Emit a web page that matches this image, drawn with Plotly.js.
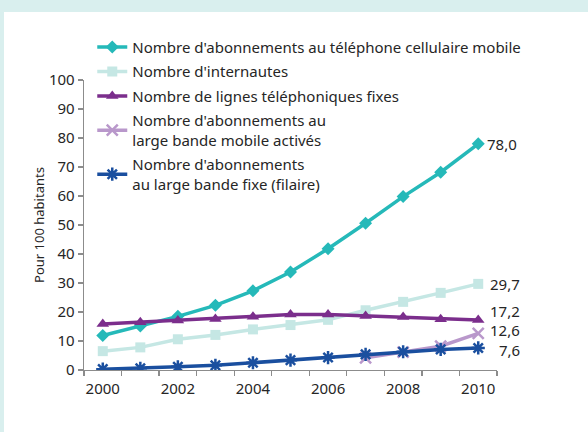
<!DOCTYPE html>
<html>
<head>
<meta charset="utf-8">
<script src="https://cdn.plot.ly/plotly-3.0.1.min.js"></script>
<style>html,body{margin:0;padding:0;background:#d9efee;}#chart{width:588px;height:432px;}</style>
</head>
<body>
<div id="chart"></div>
<script>
var years = [2000, 2001, 2002, 2003, 2004, 2005, 2006, 2007, 2008, 2009, 2010];
var mobileSubs = [11.9, 15.2, 18.5, 22.3, 27.3, 33.8, 41.8, 50.6, 59.8, 68.2, 78.0];
var internetUsers = [6.5, 7.8, 10.6, 12.1, 14.0, 15.5, 17.3, 20.6, 23.5, 26.6, 29.7];
var fixedLines = [15.9, 16.5, 17.1, 17.6, 18.4, 19.1, 19.1, 18.6, 18.3, 17.5, 17.2];
var mobileBroadband = [null, null, null, null, null, null, null, 4.2, 6.2, 8.2, 12.6];
var fixedBroadband = [0.3, 0.6, 1.1, 1.6, 2.5, 3.4, 4.3, 5.4, 6.3, 7.1, 7.6];
var seriesNames = [
  "Nombre d'abonnements au téléphone cellulaire mobile",
  "Nombre d'internautes",
  "Nombre de lignes téléphoniques fixes",
  "Nombre d'abonnements au<br>large bande mobile activés",
  "Nombre d'abonnements<br>au large bande fixe (filaire)"
];
var yTitle = "Pour 100 habitants";

var FONT = "'Noto Sans', 'Open Sans', sans-serif";
var TXT = '#262626';

function tr(y, name, color, symbol, msize, mline, grp) {
  return {
    x: years, y: y, name: name, type: 'scatter', mode: 'lines+markers',
    legendgroup: grp,
    line: {color: color, width: 3.5},
    marker: {symbol: symbol, size: msize, color: color, line: {color: color, width: mline}},
    connectgaps: false
  };
}
var data = [
  tr(mobileSubs, seriesNames[0], '#25b9b9', 'diamond', 10, 0, 'a'),
  tr(internetUsers, seriesNames[1], '#c5e7e4', 'square', 10, 0, 'b'),
  tr(fixedLines, seriesNames[2], '#7b2e8c', 'triangle-up', 11, 0, 'c'),
  tr(mobileBroadband, seriesNames[3], '#b998cb', 'x-thin', 11, 2.5, 'd'),
  tr(fixedBroadband, seriesNames[4], '#1a4f9f', 'asterisk', 11, 2.5, 'e')
];

function fmt(v) { return v.toFixed(1).replace('.', ','); }
var last = years[years.length - 1];
var labelSeries = [
  {v: mobileSubs[10], dx: 7, dy: 0},
  {v: internetUsers[10], dx: 10, dy: 0},
  {v: fixedLines[10], dx: 10, dy: -9.5},
  {v: mobileBroadband[10], dx: 10, dy: -3},
  {v: fixedBroadband[10], dx: 19, dy: 2}
];
var annotations = labelSeries.map(function (s) {
  return {
    x: last, y: s.v, xref: 'x', yref: 'y', text: fmt(s.v), showarrow: false,
    xanchor: 'left', yanchor: 'middle', xshift: s.dx, yshift: -s.dy,
    font: {family: FONT, size: 15, color: TXT}
  };
});

var minorVals = [];
for (var i = 0; i <= years.length; i++) minorVals.push(years[0] - 0.5 + i);

var layout = {
  width: 588, height: 432,
  margin: {l: 84, r: 91, t: 80, b: 62},
  paper_bgcolor: '#d9efee',
  plot_bgcolor: '#ffffff',
  font: {family: FONT, size: 15, color: TXT},
  showlegend: true,
  legend: {
    x: 0.02, y: 1.17, xanchor: 'left', yanchor: 'top',
    bgcolor: 'rgba(0,0,0,0)', borderwidth: 0,
    font: {family: FONT, size: 15, color: TXT},
    tracegroupgap: 2, itemwidth: 30
  },
  xaxis: {
    range: [1999.5, 2010.5], showgrid: false, zeroline: false,
    showline: true, linecolor: '#8c8c8c', linewidth: 1.3,
    tickvals: [2000, 2002, 2004, 2006, 2008, 2010], ticks: '',
    ticklabelstandoff: 5,
    tickfont: {family: FONT, size: 15, color: TXT},
    minor: {tickvals: minorVals, ticks: 'outside', ticklen: 5, tickcolor: '#8c8c8c', tickwidth: 1.3, showgrid: false},
    fixedrange: true
  },
  yaxis: {
    range: [0, 100], dtick: 10, showgrid: false, zeroline: false,
    showline: true, linecolor: '#8c8c8c', linewidth: 1.3,
    ticks: 'outside', ticklen: 5, tickcolor: '#8c8c8c', tickwidth: 1.3,
    tickfont: {family: FONT, size: 15, color: TXT},
    title: {text: yTitle, font: {family: FONT, size: 13, color: TXT}, standoff: 1},
    fixedrange: true
  },
  shapes: [{
    type: 'rect', xref: 'paper', yref: 'paper', layer: 'below',
    x0: -0.1937, x1: 1.25, y0: -0.25, y1: 1.2345,
    fillcolor: '#ffffff', line: {width: 0}
  }],
  annotations: annotations
};

Plotly.newPlot('chart', data, layout, {displayModeBar: false, staticPlot: true});
</script>
</body>
</html>
